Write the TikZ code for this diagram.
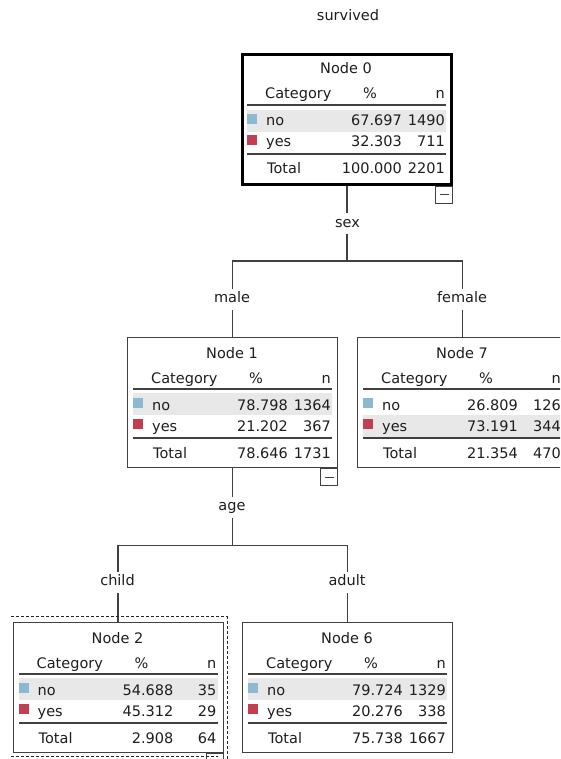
\documentclass[tikz,border=0pt]{standalone}
\usepackage{fontspec}
\setmainfont{DejaVu Sans}
\definecolor{bluesq}{RGB}{140,184,210}
\definecolor{redsq}{RGB}{195,62,78}
\definecolor{bandc}{RGB}{232,232,232}
\definecolor{linec}{RGB}{64,64,64}
\definecolor{txtc}{RGB}{30,30,30}
\tikzset{
 txt/.style={font=\fontsize{14.5}{16}\selectfont, inner sep=0pt, text=txtc},
 numf/.style={font=\fontsize{14.5}{16}\selectfont, inner sep=0pt, text=txtc},
 tframe/.style={draw=linec, line width=1.2pt, minimum width=210pt, minimum height=130pt, inner sep=0pt, fill=white},
 tframezero/.style={draw=black, line width=3pt, minimum width=209pt, minimum height=130pt, inner sep=0pt, fill=white},
 hrule/.style={draw=linec, line width=1.2pt},
 conn/.style={draw=linec, line width=1.3pt},
 lbl/.style={font=\fontsize{14.5}{16}\selectfont, text=txtc, fill=white, inner sep=4pt, text height=10pt, text depth=3pt},
 mbox/.style={draw=linec, line width=1pt, minimum size=17pt, inner sep=0pt, fill=white},
 focus/.style={draw=black!85, line width=1pt, dash pattern=on 3pt off 2pt},
}
% name, x, y, title, band top, frame style
\newcommand\tbox[6]{%
 \begin{scope}[shift={(#2,#3)}]
  \node[#6, anchor=north west] (#1) at (0,0) {};
  \fill[bandc] (6,#5) rectangle (205,#5+22);
  \node[txt, anchor=base] (#1-title) at (105,21) {#4};
  \node[txt, anchor=base west] (#1-hc) at (24,46) {Category};
  \node[txt, anchor=base] (#1-hp) at (129,46) {\%};
  \node[txt, anchor=base east] (#1-hn) at (204,46) {n};
  \draw[hrule] (6,52) -- (205,52);
  \draw[hrule] (6,101) -- (205,101);
  \fill[bluesq] (6,61) rectangle (16,71);
  \fill[redsq] (6,82) rectangle (16,92);
  \node[txt, anchor=base west] (#1-no) at (25,73) {no};
  \node[txt, anchor=base west] (#1-yes) at (25,94) {yes};
  \node[txt, anchor=base west] (#1-tot) at (26,121) {Total};
 \end{scope}}
% name, pct no, n no, pct yes, n yes, pct total, n total
\newcommand\tnums[7]{%
 \begin{scope}[shift={(#1.north west)}]
  \node[numf, anchor=base east] (#1-pno) at (161,73) {#2};
  \node[numf, anchor=base east] (#1-nno) at (204,73) {#3};
  \node[numf, anchor=base east] (#1-pyes) at (161,94) {#4};
  \node[numf, anchor=base east] (#1-nyes) at (204,94) {#5};
  \node[numf, anchor=base east] (#1-ptot) at (161,121) {#6};
  \node[numf, anchor=base east] (#1-ntot) at (204,121) {#7};
 \end{scope}}
\begin{document}
\begin{tikzpicture}[x=1pt, y=-1pt]
\useasboundingbox (0,0) rectangle (560,759);
\clip (0,0) rectangle (560,759);
\fill[white] (0,0) rectangle (560,759);

\node[txt] (title) at (348,15) {survived};

\tbox{n0}{241}{53}{Node 0}{57}{tframezero}
\tnums{n0}{67.697}{1490}{32.303}{711}{100.000}{2201}
\tbox{n1}{127}{337}{Node 1}{56}{tframe}
\tnums{n1}{78.798}{1364}{21.202}{367}{78.646}{1731}
\tbox{n7}{357}{337}{Node 7}{78}{tframe}
\tnums{n7}{26.809}{126}{73.191}{344}{21.354}{470}
\tbox{n2}{12.5}{622}{Node 2}{56}{tframe}
\tnums{n2}{54.688}{35}{45.312}{29}{2.908}{64}
\tbox{n6}{242}{622}{Node 6}{56}{tframe}
\tnums{n6}{79.724}{1329}{20.276}{338}{75.738}{1667}

% minus boxes
\node[mbox, anchor=north east] (m0) at (n0.south east) {};
\draw[linec, line width=1pt] (m0.center) ++(-4.5,0) -- ++(9,0);
\node[mbox, anchor=north east] (m1) at (n1.south east) {};
\draw[linec, line width=1pt] (m1.center) ++(-4.5,0) -- ++(9,0);
\node[mbox, anchor=north east] (m2) at (n2.south east) {};

% connectors
\draw[conn] (n0.south) -- ++(0,75) coordinate (j0);
\draw[conn] (n1.north) |- (j0) -| (n7.north);
\draw[conn] (n1.south) -- ++(0,77) coordinate (j1);
\draw[conn] (n2.north) |- (j1) -| (n6.north);

% branch labels
\node[lbl] (sex) at (347.5,223.5) {sex};
\node[lbl] (male) at (232,299) {male};
\node[lbl] (female) at (462,299) {female};
\node[lbl] (age) at (232,507) {age};
\node[lbl] (child) at (117.5,582) {child};
\node[lbl] (adult) at (347,582) {adult};

% focus rectangle around node 2
\draw[focus] (11,616.5) -- (227,616.5) -- (227,765);
\draw[focus] (11,756.5) -- (218,756.5);
\end{tikzpicture}
\end{document}
